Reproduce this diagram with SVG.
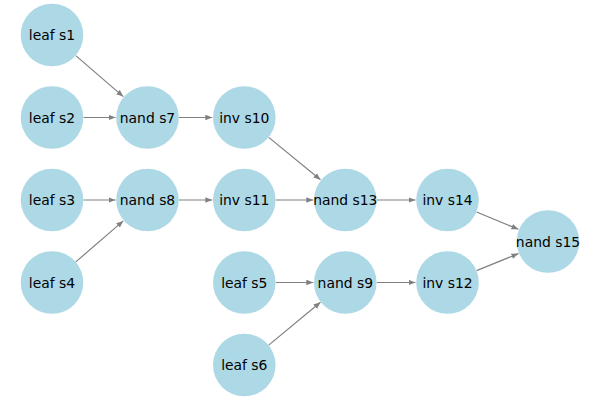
<svg xmlns="http://www.w3.org/2000/svg" width="600" height="400" viewBox="0 0 600 400">
<style>
.n circle{fill:#add8e6}
.n text{font-family:"DejaVu Sans",sans-serif;font-size:13.9px;fill:#000;text-anchor:middle;dominant-baseline:central}
.e line{stroke:#808080;stroke-width:1.2;marker-end:url(#ah)}
</style>
<defs>
<marker id="ah" markerUnits="userSpaceOnUse" markerWidth="8" markerHeight="7" refX="7" refY="2.8" orient="auto">
<path d="M0,0 L7,2.8 L0,5.6 z" fill="#808080"/>
</marker>
</defs>
<rect width="600" height="400" fill="#fff"/>
<g id="edges" class="e">
<line x1="75.8" y1="55.6" x2="123.3" y2="96.6"/>
<line x1="83.5" y1="117.5" x2="115.5" y2="117.5"/>
<line x1="83.5" y1="200" x2="115.5" y2="200"/>
<line x1="75.8" y1="261.9" x2="123.3" y2="220.9"/>
<line x1="179" y1="117.5" x2="212.3" y2="117.5"/>
<line x1="179" y1="200" x2="212.3" y2="200"/>
<line x1="268.7" y1="137.4" x2="320.5" y2="179.8"/>
<line x1="275.8" y1="200" x2="313.3" y2="200"/>
<line x1="275.8" y1="282.5" x2="313.3" y2="282.5"/>
<line x1="268.7" y1="345.1" x2="320.5" y2="302.3"/>
<line x1="376.8" y1="200" x2="415.5" y2="200"/>
<line x1="376.8" y1="282.5" x2="415.5" y2="282.5"/>
<line x1="476.6" y1="212" x2="518.4" y2="229.3"/>
<line x1="476.6" y1="270.6" x2="518.4" y2="253.6"/>
</g>
<g id="s1" class="n"><circle cx="52" cy="35" r="31.3"/><text x="52" y="35">leaf s1</text></g>
<g id="s2" class="n"><circle cx="52" cy="117.5" r="31.3"/><text x="52" y="117.5">leaf s2</text></g>
<g id="s3" class="n"><circle cx="52" cy="200" r="31.3"/><text x="52" y="200">leaf s3</text></g>
<g id="s4" class="n"><circle cx="52" cy="282.5" r="31.3"/><text x="52" y="282.5">leaf s4</text></g>
<g id="s7" class="n"><circle cx="147.5" cy="117.5" r="31.3"/><text x="147.5" y="117.5">nand s7</text></g>
<g id="s8" class="n"><circle cx="147.5" cy="200" r="31.3"/><text x="147.5" y="200">nand s8</text></g>
<g id="s10" class="n"><circle cx="244.3" cy="117.5" r="31.3"/><text x="244.3" y="117.5">inv s10</text></g>
<g id="s11" class="n"><circle cx="244.3" cy="200" r="31.3"/><text x="244.3" y="200">inv s11</text></g>
<g id="s5" class="n"><circle cx="244.3" cy="282.5" r="31.3"/><text x="244.3" y="282.5">leaf s5</text></g>
<g id="s6" class="n"><circle cx="244.3" cy="365" r="31.3"/><text x="244.3" y="365">leaf s6</text></g>
<g id="s13" class="n"><circle cx="345.3" cy="200" r="31.3"/><text x="345.3" y="200">nand s13</text></g>
<g id="s9" class="n"><circle cx="345.3" cy="282.5" r="31.3"/><text x="345.3" y="282.5">nand s9</text></g>
<g id="s14" class="n"><circle cx="447.5" cy="200" r="31.3"/><text x="447.5" y="200">inv s14</text></g>
<g id="s12" class="n"><circle cx="447.5" cy="282.5" r="31.3"/><text x="447.5" y="282.5">inv s12</text></g>
<g id="s15" class="n"><circle cx="548" cy="241.5" r="31.3"/><text x="548" y="241.5">nand s15</text></g>
</svg>
